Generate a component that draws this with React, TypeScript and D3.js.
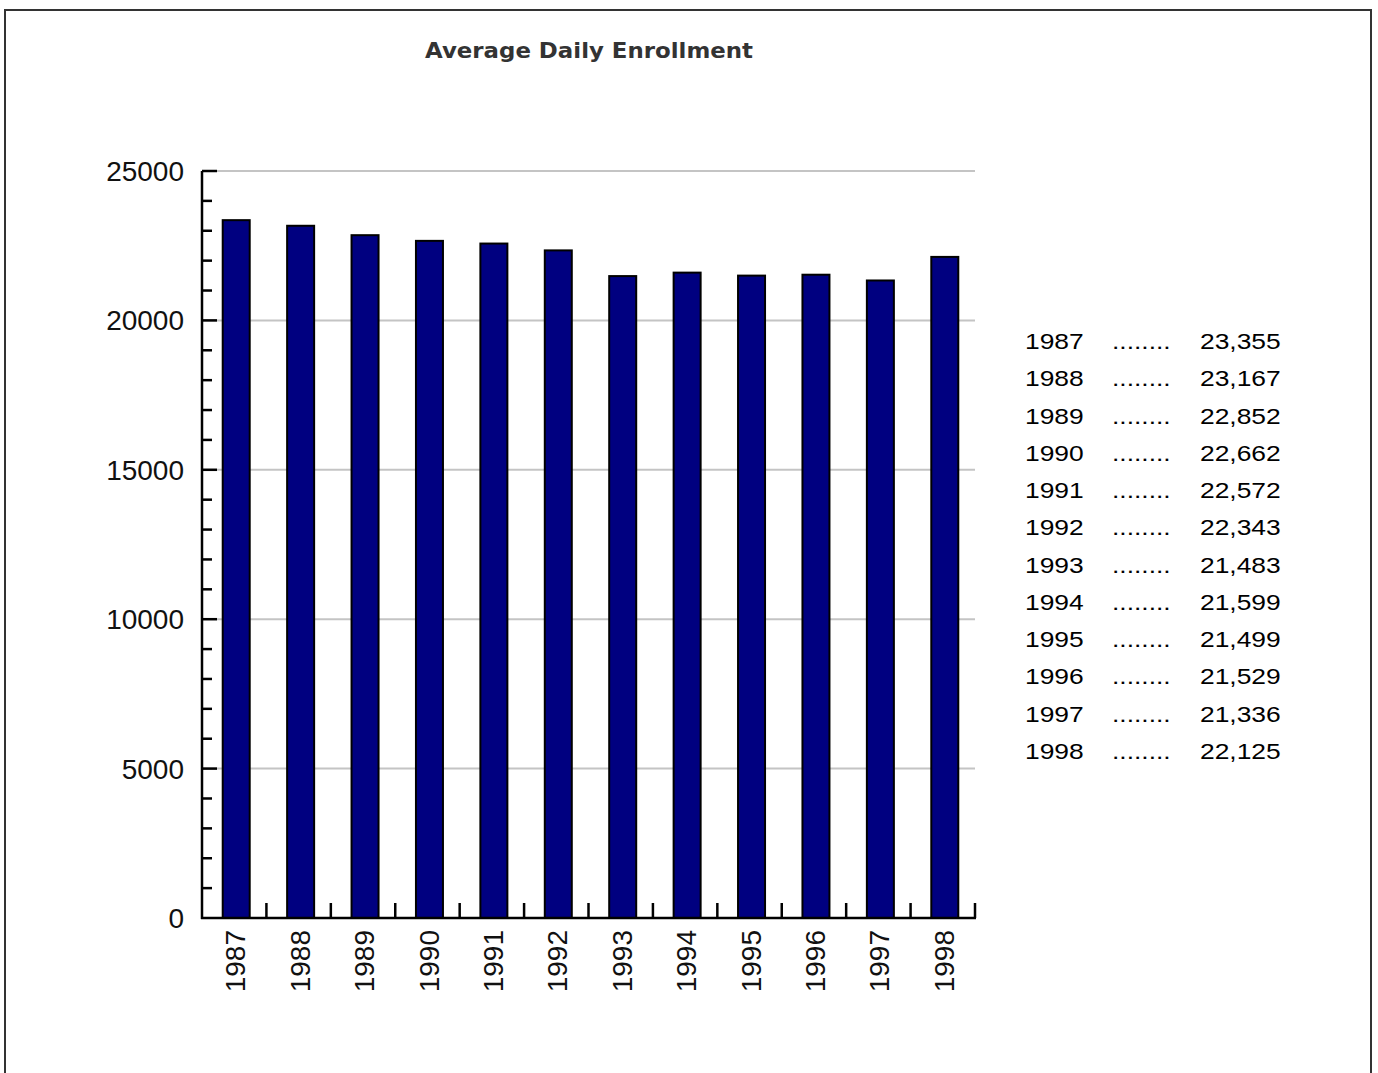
import React, { useEffect, useRef } from 'react';
import * as d3 from 'd3';

const years: string[] = ['1987', '1988', '1989', '1990', '1991', '1992', '1993', '1994', '1995', '1996', '1997', '1998'];
const enrollment: number[] = [23355, 23167, 22852, 22662, 22572, 22343, 21483, 21599, 21499, 21529, 21336, 22125];
const yTicks: number[] = [0, 5000, 10000, 15000, 20000, 25000];
const chartTitle = 'Average Daily Enrollment';

const App: React.FC = () => {
    const svgRef = useRef<SVGSVGElement>(null);

    useEffect(() => {
        if (!svgRef.current) return;
        document.body.style.margin = '0';

        const svg = d3.select(svgRef.current);
        svg.selectAll('*').remove();

        const height = 1073;
        const left = 202;
        const right = 975;
        const top = 171;
        const bottom = 918;
        const axisFont = "'Liberation Sans', Arial, sans-serif";

        // Outer frame
        svg.append('rect')
            .attr('x', 5)
            .attr('y', 10)
            .attr('width', 1366)
            .attr('height', height + 20)
            .attr('fill', 'white')
            .attr('stroke', '#333')
            .attr('stroke-width', 2);

        // Title
        svg.append('text')
            .attr('x', 589)
            .attr('y', 58)
            .attr('text-anchor', 'middle')
            .attr('font-family', "'DejaVu Sans', Verdana, sans-serif")
            .attr('font-size', '22px')
            .attr('font-weight', 'bold')
            .attr('fill', '#333')
            .attr('textLength', 328)
            .attr('lengthAdjust', 'spacingAndGlyphs')
            .text(chartTitle);

        const x = d3.scaleBand<string>()
            .domain(years)
            .range([left, right])
            .padding(0);

        const y = d3.scaleLinear()
            .domain([0, 25000])
            .range([bottom, top]);

        // Grid lines
        yTicks.filter(t => t > 0).forEach(t => {
            svg.append('line')
                .attr('x1', left)
                .attr('x2', right)
                .attr('y1', y(t))
                .attr('y2', y(t))
                .attr('stroke', '#c4c4c4')
                .attr('stroke-width', 2);
        });

        // Bars
        const barW = 27;
        years.forEach((yr, i) => {
            const cx = (x(yr) as number) + x.bandwidth() / 2 + 2;
            svg.append('rect')
                .attr('x', cx - barW / 2)
                .attr('y', y(enrollment[i]))
                .attr('width', barW)
                .attr('height', bottom - y(enrollment[i]))
                .attr('fill', '#000080')
                .attr('stroke', '#000')
                .attr('stroke-width', 2);

            // Rotated year label
            svg.append('text')
                .attr('transform', `translate(${cx - 1}, 930) rotate(-90)`)
                .attr('text-anchor', 'end')
                .attr('dy', '0.36em')
                .attr('font-family', axisFont)
                .attr('font-size', '28px')
                .attr('fill', '#111')
                .text(yr);
        });

        // Minor and major ticks on y axis (pointing inward)
        d3.range(1000, 25001, 1000).forEach(v => {
            const major = v % 5000 === 0;
            svg.append('line')
                .attr('x1', left)
                .attr('x2', left + (major ? 15 : 10))
                .attr('y1', y(v))
                .attr('y2', y(v))
                .attr('stroke', '#000')
                .attr('stroke-width', 2.5);
        });

        // Y tick labels
        yTicks.forEach(t => {
            svg.append('text')
                .attr('x', 184)
                .attr('y', y(t))
                .attr('dy', '0.36em')
                .attr('text-anchor', 'end')
                .attr('font-family', axisFont)
                .attr('font-size', '28px')
                .attr('fill', '#111')
                .text(t);
        });

        // X ticks at band edges
        years.forEach(yr => {
            const xe = (x(yr) as number) + x.bandwidth();
            svg.append('line')
                .attr('x1', xe)
                .attr('x2', xe)
                .attr('y1', bottom)
                .attr('y2', bottom - 15)
                .attr('stroke', '#000')
                .attr('stroke-width', 2.5);
        });

        // Axes
        svg.append('line')
            .attr('x1', left).attr('x2', left)
            .attr('y1', top).attr('y2', bottom + 1)
            .attr('stroke', '#000').attr('stroke-width', 2.5);
        svg.append('line')
            .attr('x1', left - 1).attr('x2', right + 1)
            .attr('y1', bottom).attr('y2', bottom)
            .attr('stroke', '#000').attr('stroke-width', 2.5);

        // Value table on the right
        const fmt = d3.format(',');
        const tableFont = "'Liberation Sans', Arial, sans-serif";
        const rowY = d3.scaleLinear().domain([0, years.length - 1]).range([349, 759]);
        years.forEach((yr, i) => {
            const cols: [number, string][] = [[1025, yr], [1112, '........'], [1200, fmt(enrollment[i])]];
            cols.forEach(([cx, label]) => {
                svg.append('text')
                    .attr('transform', `translate(${cx}, ${rowY(i)}) scale(1.2, 1)`)
                    .attr('font-family', tableFont)
                    .attr('font-size', '22px')
                    .attr('fill', '#000')
                    .text(label);
            });
        });
    }, []);

    return (
        <div style={{ position: 'absolute', left: 0, top: 0 }}>
            <svg ref={svgRef} width={1378} height={1073} style={{ display: 'block' }}></svg>
        </div>
    );
};

export default App;
